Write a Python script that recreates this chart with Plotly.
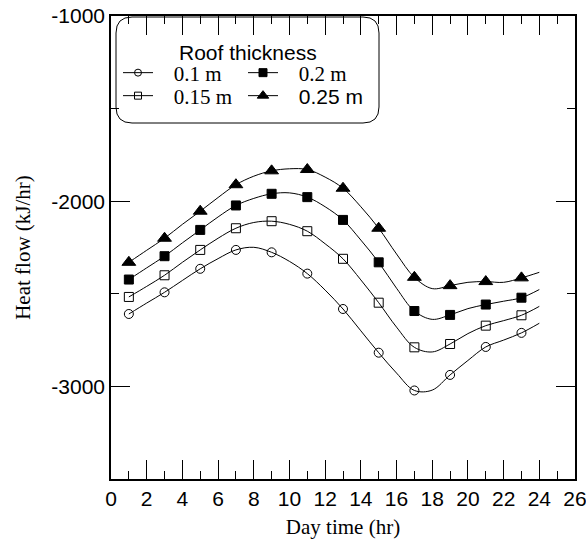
import plotly.graph_objects as go

hours = list(range(1, 25))
q_010 = [-2609, -2550, -2492, -2428, -2365, -2310, -2263, -2249, -2276, -2325, -2391, -2480,
         -2582, -2700, -2818, -2928, -3022, -3020, -2938, -2860, -2787, -2750, -2711, -2659]
q_015 = [-2517, -2460, -2400, -2330, -2263, -2200, -2146, -2115, -2108, -2125, -2162, -2230,
         -2311, -2425, -2548, -2680, -2789, -2814, -2771, -2715, -2672, -2645, -2616, -2568]
q_020 = [-2423, -2360, -2297, -2225, -2155, -2085, -2023, -1985, -1960, -1955, -1978, -2030,
         -2101, -2210, -2330, -2470, -2593, -2638, -2614, -2580, -2558, -2540, -2521, -2477]
q_025 = [-2330, -2265, -2200, -2125, -2054, -1980, -1911, -1865, -1836, -1825, -1829, -1870,
         -1930, -2030, -2146, -2285, -2411, -2472, -2456, -2438, -2434, -2438, -2414, -2384]

series_names = ["0.1 m", "0.15 m", "0.2 m", '<span style="font-family:\'Liberation Sans\', Arial">0.25 m</span>']
yticks = [-3000, -2000, -1000]
yticklabels = ["-3000", "-2000", "-1000"]

SERIF = "Liberation Serif, Times New Roman, serif"
SANS = "Liberation Sans, Arial, sans-serif"

styles = ["circle-open", "square-open", "square", "triangle-up"]
sizes = [9, 9, 9, 12]
leg_sizes = [7, 7, 8, 10]
all_series = [q_010, q_015, q_020, q_025]

fig = go.Figure()
for i, ys in enumerate(all_series):
    fig.add_trace(go.Scatter(x=hours, y=ys, mode="lines", line=dict(color="black", width=1, shape="spline"),
                             showlegend=False, hoverinfo="skip"))
    fig.add_trace(go.Scatter(x=hours[0::2], y=ys[0::2], mode="markers",
                             marker=dict(symbol=styles[i], size=sizes[i], color="black",
                                         line=dict(color="black", width=1)),
                             showlegend=False))

legend_ids = ["legend", "legend2", "legend3", "legend4"]
for i in range(4):
    fig.add_trace(go.Scatter(x=[None], y=[None], mode="lines+markers",
                             name="&nbsp;&nbsp;&nbsp;" + series_names[i],
                             line=dict(color="black", width=1),
                             marker=dict(symbol=styles[i], size=leg_sizes[i], color="black",
                                         line=dict(color="black", width=1)),
                             legend=legend_ids[i], showlegend=True))

W, H = 586, 545
L, R, T, B = 111, 11, 16, 66
pw, ph = W - L - R, H - T - B

def px(xp):
    return (xp - L) / pw

def py(yp):
    return 1 - (yp - T) / ph

leg_pos = [(118, 73), (118, 96), (243, 73), (243, 96)]
leg_common = dict(bgcolor="rgba(0,0,0,0)", borderwidth=0, xanchor="left", yanchor="middle",
                  font=dict(family=SERIF, size=21, color="black"), itemwidth=30)
layout_legends = {}
for lid, (lx, ly) in zip(legend_ids, leg_pos):
    layout_legends[lid] = dict(x=px(lx), y=py(ly), **leg_common)

x0, x1 = px(116), px(379)
yt, yb = py(17), py(123)
rx, ry = 16 / pw, 16 / ph
path = (f"M {x0+rx},{yt} L {x1-rx},{yt} Q {x1},{yt} {x1},{yt-ry} L {x1},{yb+ry} "
        f"Q {x1},{yb} {x1-rx},{yb} L {x0+rx},{yb} Q {x0},{yb} {x0},{yb+ry} "
        f"L {x0},{yt-ry} Q {x0},{yt} {x0+rx},{yt} Z")

axis_common = dict(showline=True, linecolor="black", linewidth=1.5, mirror="allticks",
                   ticks="inside", ticklen=19, tickwidth=1, tickcolor="black",
                   showgrid=False, zeroline=False, automargin=False, ticklabeloverflow="allow",
                   tickfont=dict(family=SANS, size=21, color="black"))

fig.update_layout(
    width=W, height=H,
    margin=dict(l=L, r=R, t=T, b=B, autoexpand=False),
    plot_bgcolor="white", paper_bgcolor="white",
    xaxis=dict(range=[0, 26], dtick=2, tick0=0,
               minor=dict(dtick=1, ticks="inside", ticklen=8, tickcolor="black", tickwidth=1),
               title=dict(text="Day time (hr)", font=dict(family=SERIF, size=21, color="black"), standoff=10),
               **axis_common),
    yaxis=dict(range=[-3500, -1000], tickvals=yticks, ticktext=yticklabels,
               minor=dict(dtick=500, tick0=-1000, ticks="inside", ticklen=8, tickcolor="black", tickwidth=1),
               title=dict(text="Heat flow (kJ/hr)", font=dict(family=SERIF, size=21, color="black"), standoff=15),
               **axis_common),
    shapes=[dict(type="path", path=path, xref="paper", yref="paper",
                 line=dict(color="black", width=1), fillcolor="rgba(0,0,0,0)")],
    annotations=[dict(text="Roof thickness", x=px(247.5), y=py(52), xref="paper", yref="paper",
                      showarrow=False, xanchor="center", yanchor="middle",
                      font=dict(family=SANS, size=21, color="black"))],
    **layout_legends,
)

fig.write_html("out.html", config={"displayModeBar": False},
               post_script="document.body.style.margin='0';document.body.style.overflow='hidden';")
